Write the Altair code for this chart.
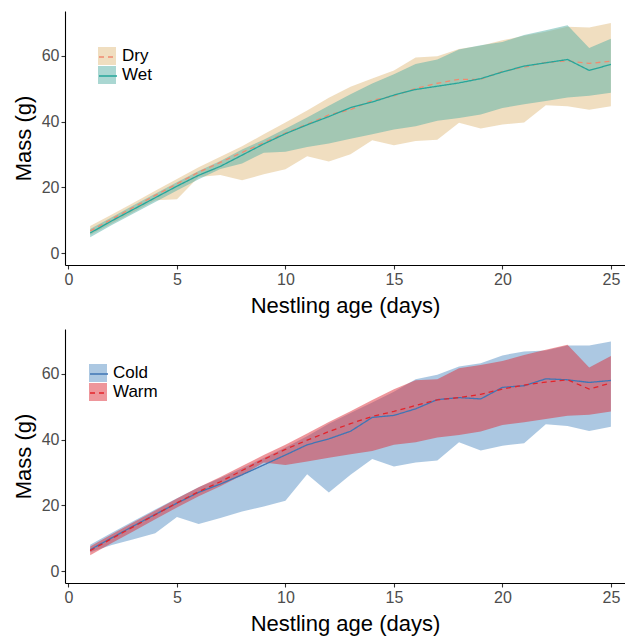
import altair as alt
import pandas as pd

days = list(range(1, 26))

# ---- Top panel: Dry vs Wet ----
dry_mean = [6.8, 10.4, 14.0, 17.6, 21.1, 24.6, 27.6, 30.6, 33.6, 36.5, 39.2, 42.0, 43.6,
            46.4, 47.8, 50.0, 51.6, 52.8, 52.8, 55.2, 56.5, 57.9, 58.4, 57.6, 58.3]
dry_lo = [5.6, 9.1, 12.6, 16.1, 16.4, 23.2, 23.8, 22.2, 24.0, 25.5, 29.5, 27.9, 30.1,
          34.3, 32.8, 34.1, 34.5, 39.6, 37.9, 39.1, 39.7, 44.9, 44.6, 43.6, 44.6]
dry_hi = [8.3, 11.8, 15.4, 19.0, 22.6, 26.1, 29.3, 32.5, 36.1, 39.7, 43.3, 47.2, 50.5,
          53.0, 55.5, 59.4, 59.8, 62.0, 63.0, 64.6, 66.0, 67.2, 68.7, 68.5, 69.9]
wet_mean = [6.2, 9.9, 13.4, 16.9, 20.4, 23.7, 26.4, 29.8, 33.2, 36.3, 39.0, 41.5, 44.2,
            45.9, 48.0, 49.7, 50.7, 51.7, 53.0, 55.0, 56.8, 57.8, 58.8, 55.5, 57.3]
wet_lo = [4.9, 8.6, 12.1, 15.6, 19.1, 22.5, 25.6, 27.3, 30.5, 30.8, 32.3, 33.3, 34.8,
          36.1, 37.6, 38.6, 40.2, 41.1, 42.1, 44.1, 45.2, 46.2, 47.3, 47.8, 48.7]
wet_hi = [7.4, 11.0, 14.6, 18.1, 21.6, 25.0, 28.0, 31.5, 34.5, 37.8, 41.2, 44.8, 48.3,
          51.5, 54.3, 57.4, 58.8, 61.8, 63.1, 64.1, 66.2, 67.7, 69.2, 62.3, 65.1]

# ---- Bottom panel: Cold vs Warm ----
cold_mean = [6.6, 10.2, 13.8, 17.3, 20.7, 24.0, 26.5, 29.3, 32.3, 35.3, 38.4, 40.2, 42.5,
             46.7, 47.3, 49.3, 52.1, 52.7, 52.3, 55.8, 56.3, 58.4, 58.1, 57.3, 57.9]
cold_lo = [5.8, 8.0, 9.8, 11.6, 16.5, 14.4, 16.2, 18.2, 19.7, 21.4, 29.5, 23.9, 29.3,
           34.1, 31.8, 33.0, 33.6, 39.2, 36.7, 38.1, 38.9, 44.6, 44.1, 42.6, 43.9]
cold_hi = [8.1, 11.7, 15.3, 18.8, 22.2, 25.5, 28.3, 31.3, 34.4, 37.6, 41.0, 44.8, 48.0,
           51.2, 54.5, 58.3, 59.6, 62.1, 63.1, 65.5, 66.7, 67.0, 68.5, 68.5, 69.7]
warm_mean = [6.3, 10.0, 13.6, 17.2, 20.8, 24.2, 27.2, 30.6, 34.0, 37.0, 39.8, 42.4, 44.8,
             47.0, 48.5, 50.3, 52.0, 52.7, 53.7, 55.3, 56.5, 57.4, 58.1, 55.3, 57.1]
warm_lo = [4.9, 8.6, 12.2, 15.8, 19.4, 22.8, 25.8, 29.2, 33.0, 32.3, 33.3, 34.5, 35.5,
           36.5, 38.4, 39.2, 40.6, 41.4, 42.4, 44.4, 45.2, 46.2, 47.2, 47.5, 48.5]
warm_hi = [7.6, 11.3, 14.9, 18.5, 22.1, 25.5, 28.6, 32.0, 35.3, 38.4, 41.8, 45.3, 48.6,
           52.0, 55.2, 58.0, 58.3, 61.6, 62.6, 63.8, 65.6, 67.2, 68.7, 61.8, 65.3]

top_names = ["Dry", "Wet"]
top_fills = ["#E1BD81", "#55AFA5"]
top_lines = ["#F08A70", "#26A69A"]
top_dashes = [[5, 4], [1, 0]]

bot_names = ["Cold", "Warm"]
bot_fills = ["#5991C5", "#DD2D37"]
bot_lines = ["#3F75B5", "#E3242B"]
bot_dashes = [[1, 0], [5, 4]]

FONT = "Liberation Sans"


def make_df(names, means, los, his):
    rows = []
    for name, m, lo, hi in zip(names, means, los, his):
        for d, a, b, c in zip(days, m, lo, hi):
            rows.append({"day": d, "group": name, "line_group": name,
                         "mean": a, "lo": b, "hi": c})
    return pd.DataFrame(rows)


def panel(df, fills, lines, dashes, lx, ly):
    xenc = alt.X("day:Q",
                 scale=alt.Scale(domain=[-0.16, 25.65], nice=False, zero=False),
                 axis=alt.Axis(values=[0, 5, 10, 15, 20, 25], title="Nestling age (days)"))
    fill_leg = alt.Legend(orient="none", legendX=lx, legendY=ly, title=None,
                          symbolType="square", symbolSize=324, symbolOpacity=0.5,
                          symbolStrokeWidth=0, labelFontSize=17, labelFont=FONT,
                          labelColor="black", rowPadding=1, labelOffset=6, padding=0)
    line_leg = alt.Legend(orient="none", legendX=lx, legendY=ly, title=None,
                          symbolType="stroke", symbolSize=324, symbolStrokeWidth=1.5,
                          labelFontSize=17, labelFont=FONT, labelExpr="''",
                          rowPadding=1, labelOffset=6, padding=0)
    band = alt.Chart(df).mark_area(opacity=0.5).encode(
        x=xenc,
        y=alt.Y("lo:Q", stack=None,
                scale=alt.Scale(domain=[-3.5, 73.5], nice=False),
                axis=alt.Axis(values=[0, 20, 40, 60], title="Mass (g)")),
        y2="hi:Q",
        fill=alt.Fill("group:N", scale=alt.Scale(range=fills), legend=fill_leg),
    )
    line = alt.Chart(df).mark_line(strokeWidth=1.3).encode(
        x=xenc,
        y=alt.Y("mean:Q"),
        stroke=alt.Stroke("line_group:N", scale=alt.Scale(range=lines), legend=line_leg),
        strokeDash=alt.StrokeDash("line_group:N", scale=alt.Scale(range=dashes), legend=line_leg),
    )
    return alt.layer(band, line).properties(width=560, height=254)


top = panel(make_df(top_names, [dry_mean, wet_mean], [dry_lo, wet_lo], [dry_hi, wet_hi]),
            top_fills, top_lines, top_dashes, 33, 36)
bottom = panel(make_df(bot_names, [cold_mean, warm_mean], [cold_lo, warm_lo], [cold_hi, warm_hi]),
               bot_fills, bot_lines, bot_dashes, 24, 35)

chart = alt.vconcat(top, bottom, spacing=13).resolve_scale(
    fill="independent", stroke="independent", strokeDash="independent"
).resolve_legend(
    fill="independent", stroke="independent", strokeDash="independent"
).properties(
    padding={"left": 12, "top": 11, "right": 0, "bottom": 8}
).configure(
    font=FONT
).configure_view(
    stroke=None
).configure_axis(
    grid=False, domainColor="black", domainWidth=1.1, tickColor="#333333",
    tickSize=4, tickWidth=1.1, labelColor="#4D4D4D", labelFontSize=16,
    labelPadding=2, titleFontSize=22, titleFontWeight="normal", titleColor="black",
    labelFont=FONT, titleFont=FONT
).configure_axisY(
    titlePadding=6
).configure_axisX(
    titlePadding=8
)

chart.save("out.html", embed_options={"renderer": "svg", "actions": False})
